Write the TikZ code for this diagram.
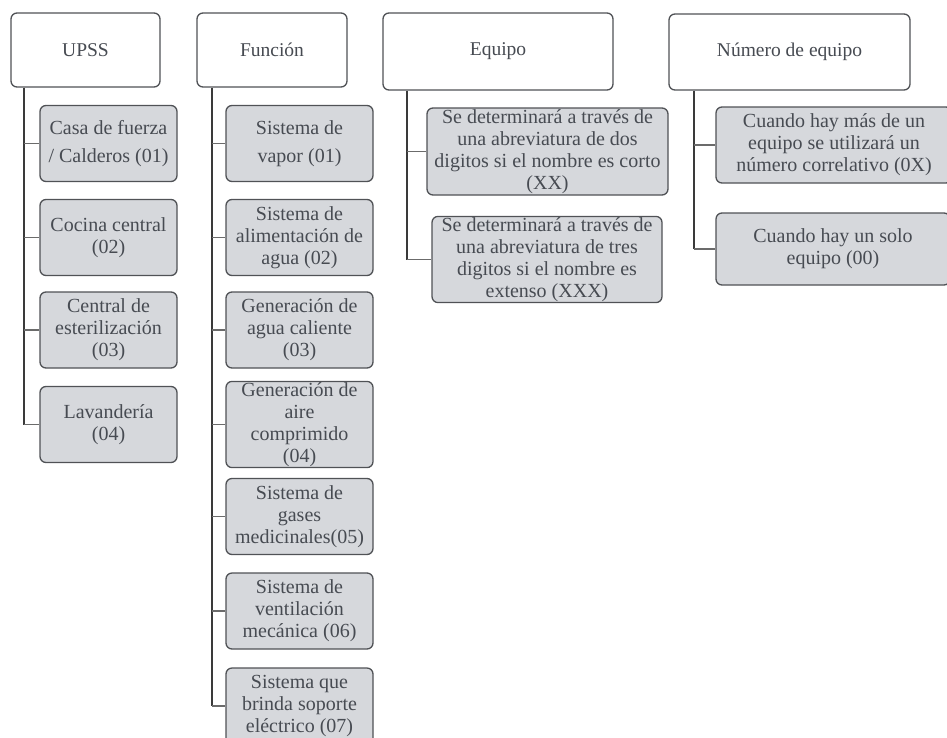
\documentclass[tikz,border=0pt]{standalone}
\usepackage{fontspec}
\setmainfont{Liberation Serif}
\definecolor{boxline}{HTML}{505256}
\definecolor{boxfill}{HTML}{D6D8DC}
\definecolor{ink}{HTML}{474B52}
\definecolor{wire}{HTML}{3A3A3A}
\tikzset{
  head/.style={draw=boxline, line width=1.3pt, fill=white, rounded corners=6pt,
    text=ink, font=\fontsize{19.5}{22}\selectfont, align=center, inner sep=1pt},
  leaf/.style={draw=boxline, line width=1.3pt, fill=boxfill, rounded corners=6pt,
    text=ink, font=\fontsize{20}{22}\selectfont, align=center, inner sep=1pt},
  wide/.style={font=\fontsize{20}{28}\selectfont},
  plain/.style={},
  trunk/.style={draw=wire, line width=1.6pt},
  twig/.style={draw=wire!75, line width=1.2pt}
}
\begin{document}
\begin{tikzpicture}[x=1pt,y=-1pt]
\useasboundingbox (0,0) rectangle (947,737);

% column headings
\node[head, minimum width=149pt, minimum height=74pt] (upss) at (85.5,50) {UPSS};
\node[head, minimum width=150pt, minimum height=74pt] (fun) at (272,50) {Función};
\node[head, minimum width=230pt, minimum height=77pt] (equ) at (498,51.5) {Equipo};
\node[head, minimum width=241pt, minimum height=76pt] (num) at (789.5,52) {Número de equipo};

% UPSS entries
\foreach \n/\y/\s/\t in {u1/143.5/wide/{Casa de fuerza\\/ Calderos (01)},
                         u2/237.5/plain/{Cocina central\\(02)},
                         u3/330/plain/{Central de\\esterilización\\(03)},
                         u4/424.5/plain/{Lavandería\\(04)}}
  \node[leaf, \s, minimum width=137pt, minimum height=76pt] (\n) at (108.5,\y) {\t};

% function entries
\foreach \n/\y/\s/\t in {f1/143.5/wide/{Sistema de\\vapor (01)},
                         f2/237.5/plain/{Sistema de\\alimentación de\\agua (02)},
                         f3/330/plain/{Generación de\\agua caliente\\(03)},
                         f4/424.5/plain/{Generación de\\aire\\comprimido\\(04)},
                         f5/516.5/plain/{Sistema de\\gases\\medicinales(05)},
                         f6/611/plain/{Sistema de\\ventilación\\mecánica (06)},
                         f7/706/plain/{Sistema que\\brinda soporte\\eléctrico (07)}}
  \node[leaf, \s, minimum width=147pt, minimum height=76pt] (\n) at (299.5,\y) {\t};

% equipment entries
\node[leaf, minimum width=241pt, minimum height=87pt] (e1) at (547.5,151.5)
  {Se determinará a través de\\una abreviatura de dos\\digitos si el nombre es corto\\(XX)};
\node[leaf, minimum width=230pt, minimum height=85pt] (e2) at (547,259.5)
  {Se determinará a través de\\una abreviatura de tres\\digitos si el nombre es\\extenso (XXX)};

% equipment number entries
\node[leaf, minimum width=236pt, minimum height=76pt] (n1) at (834,145)
  {Cuando hay más de un\\equipo se utilizará un\\número correlativo (0X)};
\node[leaf, minimum width=234pt, minimum height=72pt] (n2) at (833,249)
  {Cuando hay un solo\\equipo (00)};

% trunks from each heading
\coordinate (ut) at (24,0);
\coordinate (ft) at (212,0);
\coordinate (et) at (407,0);
\coordinate (nt) at (694,0);
\draw[trunk] (upss.south -| ut) -- (u4.west -| ut);
\draw[trunk] (fun.south -| ft) -- (f7.west -| ft);
\draw[trunk] (equ.south -| et) -- (e2.west -| et);
\draw[trunk] (num.south -| nt) -- (n2.west -| nt);

% branches to the entries
\foreach \n in {u1,u2,u3,u4} \draw[twig] (\n.west -| ut) -- (\n.west);
\foreach \n in {f1,f2,f3,f4,f5,f6,f7} \draw[twig] (\n.west -| ft) -- (\n.west);
\foreach \n in {e1,e2} \draw[twig] (\n.west -| et) -- (\n.west);
\foreach \n in {n1,n2} \draw[twig] (\n.west -| nt) -- (\n.west);
\end{tikzpicture}
\end{document}
